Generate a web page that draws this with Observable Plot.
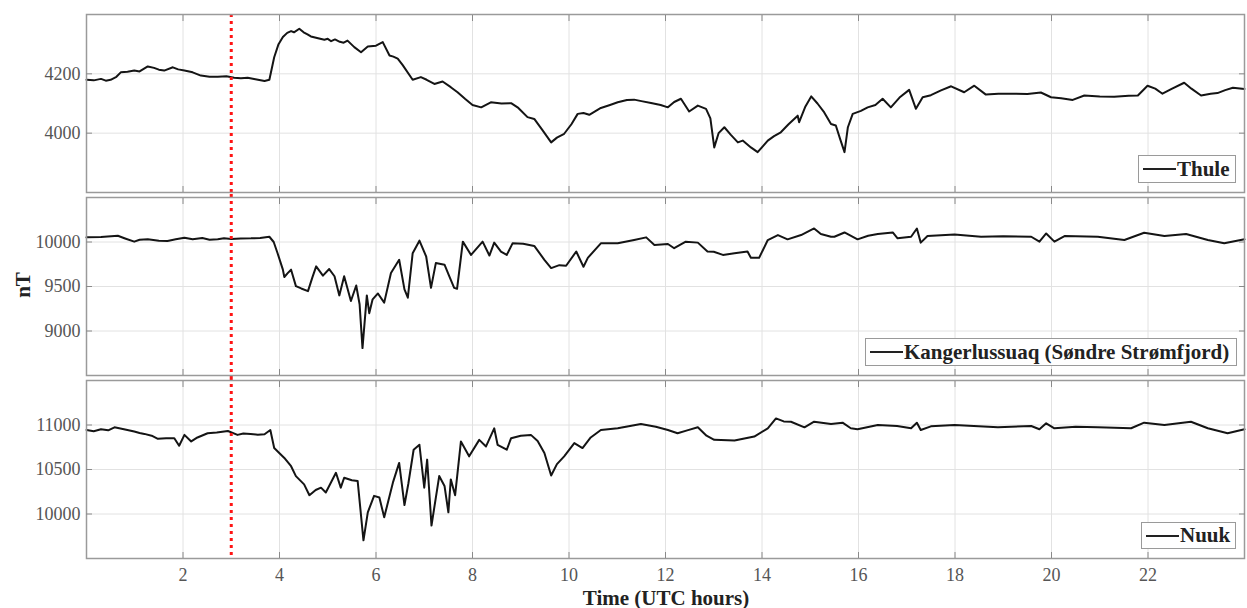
<!DOCTYPE html>
<html>
<head>
<meta charset="utf-8">
<script src="https://cdn.jsdelivr.net/npm/d3@7"></script>
<script src="https://cdn.jsdelivr.net/npm/@observablehq/plot@0.6"></script>
<style>
  html, body { margin: 0; padding: 0; background: #fff; }
  #chart { position: relative; width: 1247px; height: 608px; overflow: hidden; background: #fff; font-family: 'Liberation Serif', 'Times New Roman', serif; }
  #chart svg { position: absolute; left: 0; overflow: visible; background: transparent; }
  .leg { position: absolute; box-sizing: border-box; border: 1px solid #9a9a9a; background: #fff; display: flex; align-items: center; padding-left: 4px; font: bold 21px 'Liberation Serif', serif; color: #222; white-space: nowrap; }
  .leg .sw { display: inline-block; width: 33px; height: 0; border-top: 2px solid #222; margin-right: 1px; }
  .ttl { position: absolute; font: bold 21px 'Liberation Serif', serif; color: #222; white-space: nowrap; }
</style>
</head>
<body>
<div id="chart"></div>
<script>
// ---------- data (UTC hours, nT) ----------
const stationNames = ["Thule", "Kangerlussuaq (Søndre Strømfjord)", "Nuuk"];
const xTicks = [2, 4, 6, 8, 10, 12, 14, 16, 18, 20, 22];
const markerHour = [3];

const thuleTicks = [4000, 4200];
const kangTicks = [9000, 9500, 10000];
const nuukTicks = [10000, 10500, 11000];

const thuleT = [0,0.15,0.3,0.4,0.5,0.62,0.71,0.85,0.99,1.1,1.27,1.4,1.5,1.61,1.79,1.9,2.03,2.2,2.37,2.55,2.72,2.9,3.06,3.2,3.34,3.5,3.69,3.79,3.89,3.98,4.07,4.16,4.24,4.3,4.41,4.5,4.58,4.65,4.8,4.93,5.0,5.07,5.15,5.25,5.33,5.41,5.55,5.69,5.83,6.0,6.14,6.28,6.36,6.45,6.55,6.76,6.93,7.05,7.21,7.38,7.55,7.69,7.85,8.0,8.18,8.38,8.6,8.8,8.95,9.14,9.28,9.45,9.63,9.75,9.9,10.05,10.18,10.3,10.42,10.66,10.85,11.01,11.2,11.35,11.5,11.7,11.9,12.05,12.18,12.32,12.49,12.67,12.84,12.93,13.01,13.1,13.22,13.35,13.5,13.6,13.77,13.91,14.12,14.25,14.39,14.55,14.74,14.77,14.9,15.02,15.15,15.29,15.43,15.53,15.62,15.71,15.78,15.88,16.05,16.19,16.35,16.5,16.67,16.85,17.05,17.19,17.33,17.5,17.71,17.92,18.19,18.4,18.64,18.9,19.23,19.5,19.78,19.99,20.2,20.44,20.68,21.0,21.3,21.6,21.79,21.99,22.15,22.3,22.5,22.75,22.9,23.1,23.3,23.44,23.6,23.76,24.0];
const thuleV = [4180,4178,4183,4177,4180,4190,4205,4207,4211,4208,4225,4220,4214,4211,4222,4215,4211,4205,4194,4190,4190,4192,4187,4185,4187,4182,4176,4180,4256,4300,4324,4338,4344,4340,4352,4340,4333,4326,4320,4315,4318,4310,4316,4308,4305,4312,4290,4273,4292,4295,4307,4262,4258,4251,4230,4180,4189,4180,4166,4174,4155,4138,4115,4095,4087,4104,4100,4101,4085,4054,4048,4010,3969,3985,3998,4030,4065,4068,4062,4085,4095,4104,4112,4113,4108,4102,4095,4087,4105,4116,4073,4093,4082,4050,3952,4000,4020,3995,3969,3975,3952,3936,3975,3990,4003,4030,4059,4037,4090,4124,4100,4070,4031,4026,3980,3936,4020,4065,4075,4087,4095,4116,4087,4120,4146,4082,4121,4128,4144,4158,4138,4160,4130,4133,4133,4132,4137,4121,4118,4112,4127,4124,4123,4126,4127,4160,4150,4133,4150,4170,4150,4127,4133,4135,4145,4153,4149];

const kangT = [0,0.3,0.65,0.8,0.99,1.1,1.27,1.5,1.68,1.85,2.03,2.2,2.4,2.55,2.72,2.85,3.0,3.2,3.41,3.6,3.79,3.88,3.96,4.07,4.1,4.17,4.24,4.34,4.45,4.59,4.68,4.76,4.9,5.03,5.14,5.24,5.34,5.48,5.59,5.66,5.72,5.81,5.86,5.93,6.04,6.17,6.31,6.48,6.59,6.66,6.76,6.9,7.04,7.14,7.24,7.42,7.52,7.62,7.68,7.8,7.97,8.21,8.35,8.45,8.59,8.71,8.83,9.05,9.28,9.49,9.63,9.8,9.94,10.15,10.3,10.39,10.66,11.01,11.35,11.6,11.77,12.05,12.18,12.42,12.67,12.87,13.0,13.19,13.43,13.7,13.77,13.94,14.12,14.33,14.53,14.81,15.08,15.22,15.43,15.5,15.71,15.98,16.2,16.4,16.71,16.81,17.09,17.21,17.29,17.43,17.99,18.54,19.0,19.58,19.75,19.89,20.06,20.27,20.96,21.51,21.92,22.34,22.79,23.24,23.58,24.0];
const kangV = [10052,10055,10070,10040,10004,10025,10030,10015,10011,10030,10048,10030,10045,10025,10030,10042,10035,10040,10041,10045,10059,10000,9874,9689,9607,9650,9689,9504,9478,9448,9600,9726,9622,9696,9615,9400,9615,9337,9511,9300,8808,9400,9200,9356,9422,9319,9652,9800,9467,9374,9874,10015,9837,9485,9763,9745,9615,9485,9474,10004,9855,10004,9848,9993,9893,9855,9985,9980,9956,9800,9707,9740,9733,9893,9722,9822,9985,9985,10022,10052,9967,9978,9930,10004,9993,9893,9890,9855,9874,9893,9822,9822,10022,10078,10030,10078,10152,10089,10059,10059,10107,10030,10070,10089,10107,10041,10059,10152,9993,10067,10085,10059,10065,10059,10004,10096,10004,10067,10059,10022,10104,10067,10089,10022,9985,10030];

const nuukT = [0,0.15,0.3,0.45,0.58,0.8,0.99,1.1,1.2,1.35,1.48,1.65,1.82,1.92,2.03,2.17,2.3,2.51,2.7,2.93,3.13,3.25,3.4,3.55,3.69,3.81,3.89,4.1,4.24,4.34,4.51,4.62,4.75,4.86,4.96,5.17,5.27,5.34,5.5,5.62,5.74,5.83,5.96,6.07,6.17,6.35,6.48,6.59,6.67,6.78,6.9,7.0,7.06,7.15,7.31,7.42,7.5,7.55,7.64,7.76,7.93,8.14,8.28,8.45,8.52,8.71,8.8,9.0,9.21,9.35,9.49,9.63,9.75,9.9,10.11,10.28,10.45,10.66,11.01,11.49,11.8,12.05,12.25,12.45,12.67,12.85,13.01,13.43,13.84,14.12,14.29,14.45,14.6,14.88,15.08,15.43,15.67,15.84,15.98,16.4,16.8,17.09,17.21,17.29,17.5,17.99,18.89,19.58,19.75,19.89,20.06,20.5,20.96,21.65,21.92,22.34,22.89,23.24,23.65,24.0];
const nuukV = [10944,10930,10952,10940,10974,10950,10926,10910,10900,10880,10845,10850,10852,10767,10889,10815,10860,10907,10915,10933,10889,10905,10900,10890,10896,10944,10741,10630,10537,10426,10333,10211,10270,10296,10241,10463,10296,10407,10380,10370,9704,10019,10204,10185,9963,10352,10574,10100,10340,10722,10778,10296,10611,9870,10426,10315,10019,10389,10211,10815,10648,10833,10759,10963,10778,10722,10852,10880,10889,10820,10685,10433,10560,10648,10796,10741,10860,10944,10963,11011,10980,10944,10907,10940,10974,10880,10833,10826,10870,10963,11074,11040,11037,10974,11037,11011,11026,10963,10952,11000,10990,10963,11026,10944,10985,11000,10974,10989,10952,11019,10963,10980,10974,10963,11026,11000,11037,10963,10907,10952];

// ---------- drawing ----------
const chart = document.getElementById("chart");
const W = 1247;

function panel({T, V, yDomain, yTicks, top, mt, mb, showX, extendTop, extendBottom}) {
  const data = T.map((t, i) => ({t, v: V[i]}));
  const h = mt + 178 + mb;
  const tickColor = "#8a8a8a";
  const marks = [
    Plot.gridX(xTicks, {stroke: "#e2e2e2", strokeOpacity: 1, strokeWidth: 1}),
    Plot.gridY(yTicks, {stroke: "#e2e2e2", strokeOpacity: 1, strokeWidth: 1}),
    Plot.line(data, {x: "t", y: "v", stroke: "#141414", strokeWidth: 2, strokeLinejoin: "round"}),
    Plot.ruleX(markerHour, {stroke: "#ff1515", strokeWidth: 3, strokeDasharray: "3,4", insetTop: -extendTop, insetBottom: -extendBottom}),
    Plot.frame({stroke: "#9a9a9a", strokeWidth: 1.5}),
    // inward ticks (MATLAB style)
    Plot.axisX(xTicks, {anchor: "bottom", tickSize: 6, dy: -6, tickFormat: () => "", label: null, stroke: tickColor}),
    Plot.axisX(xTicks, {anchor: "top", tickSize: 6, dy: 6, tickFormat: () => "", label: null, stroke: tickColor}),
    Plot.axisY(yTicks, {anchor: "left", tickSize: 6, dx: 6, tickFormat: () => "", label: null, stroke: tickColor}),
    Plot.axisY(yTicks, {anchor: "right", tickSize: 6, dx: -6, tickFormat: () => "", label: null, stroke: tickColor}),
    // labels
    Plot.axisY(yTicks, {anchor: "left", tickSize: 0, tickPadding: 6, label: null, fontSize: 18, fill: "#555", tickFormat: d => String(d)})
  ];
  if (showX) {
    marks.push(Plot.axisX(xTicks, {anchor: "bottom", tickSize: 0, tickPadding: 10, label: null, fontSize: 18, fill: "#555", tickFormat: d => String(d)}));
  }
  const svg = Plot.plot({
    width: W,
    height: h,
    marginLeft: 86,
    marginRight: 3,
    marginTop: mt,
    marginBottom: mb,
    x: {domain: [0, 24], axis: null},
    y: {domain: yDomain, axis: null},
    style: {fontFamily: "'Liberation Serif', 'Times New Roman', serif", fontSize: "18px", background: "transparent", overflow: "visible"},
    marks
  });
  svg.style.top = top + "px";
  chart.appendChild(svg);
}

panel({T: thuleT, V: thuleV, yDomain: [3800, 4400], yTicks: thuleTicks, top: 0, mt: 14, mb: 3, showX: false, extendTop: 0, extendBottom: 3});
panel({T: kangT, V: kangV, yDomain: [8500, 10500], yTicks: kangTicks, top: 194, mt: 3, mb: 2, showX: false, extendTop: 3, extendBottom: 2});
panel({T: nuukT, V: nuukV, yDomain: [9500, 11500], yTicks: nuukTicks, top: 377, mt: 3, mb: 50, showX: true, extendTop: 3, extendBottom: 0});

// legends
const legendBoxes = [
  {name: stationNames[0], left: 1138, top: 155, width: 98, height: 28},
  {name: stationNames[1], left: 865, top: 338, width: 372, height: 28},
  {name: stationNames[2], left: 1141, top: 522, width: 95, height: 27}
];
for (const b of legendBoxes) {
  const d = document.createElement("div");
  d.className = "leg";
  Object.assign(d.style, {left: b.left + "px", top: b.top + "px", width: b.width + "px", height: b.height + "px"});
  const sw = document.createElement("span"); sw.className = "sw";
  const tx = document.createElement("span"); tx.textContent = b.name;
  d.appendChild(sw); d.appendChild(tx);
  chart.appendChild(d);
}

// axis titles
const yt = document.createElement("div");
yt.className = "ttl";
yt.textContent = "nT";
Object.assign(yt.style, {left: "23px", top: "285px", transform: "translate(-50%,-50%) rotate(-90deg)"});
chart.appendChild(yt);

const xt = document.createElement("div");
xt.className = "ttl";
xt.textContent = "Time (UTC hours)";
Object.assign(xt.style, {left: "666px", top: "598px", transform: "translate(-50%,-50%)"});
chart.appendChild(xt);
</script>
</body>
</html>
